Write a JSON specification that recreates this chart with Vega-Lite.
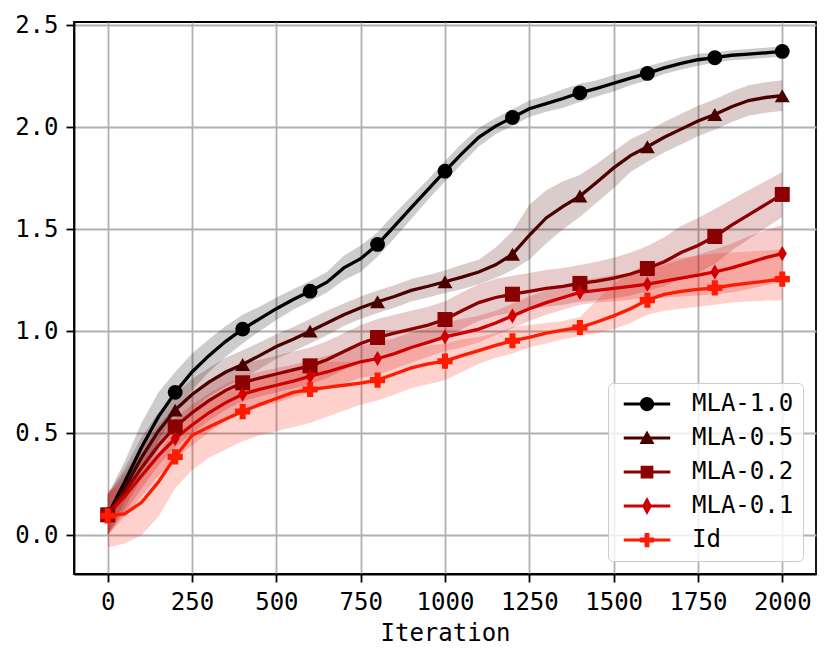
{
  "$schema": "https://vega.github.io/schema/vega-lite/v6.json",
  "autosize": {"type": "none"},
  "padding": {"left": 74, "top": 22, "right": 15, "bottom": 87},
  "width": 742,
  "height": 552,
  "datasets": {
    "runs": [
      {"s": "MLA-1.0", "it": 0, "y": 0.1, "lo": 0.0, "hi": 0.2},
      {"s": "MLA-1.0", "it": 50, "y": 0.26, "lo": 0.16, "hi": 0.36},
      {"s": "MLA-1.0", "it": 100, "y": 0.43, "lo": 0.31, "hi": 0.55},
      {"s": "MLA-1.0", "it": 150, "y": 0.58, "lo": 0.46, "hi": 0.7},
      {"s": "MLA-1.0", "it": 200, "y": 0.7, "lo": 0.6, "hi": 0.8},
      {"s": "MLA-1.0", "it": 250, "y": 0.8, "lo": 0.71, "hi": 0.89},
      {"s": "MLA-1.0", "it": 300, "y": 0.88, "lo": 0.8, "hi": 0.96},
      {"s": "MLA-1.0", "it": 350, "y": 0.95, "lo": 0.875, "hi": 1.025},
      {"s": "MLA-1.0", "it": 400, "y": 1.01, "lo": 0.94, "hi": 1.08},
      {"s": "MLA-1.0", "it": 450, "y": 1.06, "lo": 1.0, "hi": 1.12},
      {"s": "MLA-1.0", "it": 500, "y": 1.11, "lo": 1.055, "hi": 1.165},
      {"s": "MLA-1.0", "it": 550, "y": 1.155, "lo": 1.105, "hi": 1.205},
      {"s": "MLA-1.0", "it": 600, "y": 1.196, "lo": 1.146, "hi": 1.246},
      {"s": "MLA-1.0", "it": 650, "y": 1.24, "lo": 1.19, "hi": 1.29},
      {"s": "MLA-1.0", "it": 700, "y": 1.31, "lo": 1.25, "hi": 1.37},
      {"s": "MLA-1.0", "it": 750, "y": 1.355, "lo": 1.29, "hi": 1.42},
      {"s": "MLA-1.0", "it": 800, "y": 1.425, "lo": 1.365, "hi": 1.485},
      {"s": "MLA-1.0", "it": 850, "y": 1.515, "lo": 1.455, "hi": 1.575},
      {"s": "MLA-1.0", "it": 900, "y": 1.605, "lo": 1.55, "hi": 1.66},
      {"s": "MLA-1.0", "it": 950, "y": 1.695, "lo": 1.645, "hi": 1.745},
      {"s": "MLA-1.0", "it": 1000, "y": 1.784, "lo": 1.734, "hi": 1.834},
      {"s": "MLA-1.0", "it": 1050, "y": 1.87, "lo": 1.82, "hi": 1.92},
      {"s": "MLA-1.0", "it": 1100, "y": 1.95, "lo": 1.905, "hi": 1.995},
      {"s": "MLA-1.0", "it": 1150, "y": 2.005, "lo": 1.965, "hi": 2.045},
      {"s": "MLA-1.0", "it": 1200, "y": 2.047, "lo": 2.007, "hi": 2.087},
      {"s": "MLA-1.0", "it": 1250, "y": 2.09, "lo": 2.05, "hi": 2.13},
      {"s": "MLA-1.0", "it": 1300, "y": 2.115, "lo": 2.075, "hi": 2.155},
      {"s": "MLA-1.0", "it": 1350, "y": 2.14, "lo": 2.095, "hi": 2.185},
      {"s": "MLA-1.0", "it": 1400, "y": 2.168, "lo": 2.123, "hi": 2.213},
      {"s": "MLA-1.0", "it": 1450, "y": 2.19, "lo": 2.15, "hi": 2.23},
      {"s": "MLA-1.0", "it": 1500, "y": 2.215, "lo": 2.175, "hi": 2.255},
      {"s": "MLA-1.0", "it": 1550, "y": 2.24, "lo": 2.205, "hi": 2.275},
      {"s": "MLA-1.0", "it": 1600, "y": 2.263, "lo": 2.228, "hi": 2.298},
      {"s": "MLA-1.0", "it": 1650, "y": 2.29, "lo": 2.26, "hi": 2.32},
      {"s": "MLA-1.0", "it": 1700, "y": 2.312, "lo": 2.282, "hi": 2.342},
      {"s": "MLA-1.0", "it": 1750, "y": 2.33, "lo": 2.3, "hi": 2.36},
      {"s": "MLA-1.0", "it": 1800, "y": 2.34, "lo": 2.315, "hi": 2.365},
      {"s": "MLA-1.0", "it": 1850, "y": 2.352, "lo": 2.327, "hi": 2.377},
      {"s": "MLA-1.0", "it": 1900, "y": 2.358, "lo": 2.333, "hi": 2.383},
      {"s": "MLA-1.0", "it": 1950, "y": 2.364, "lo": 2.339, "hi": 2.389},
      {"s": "MLA-1.0", "it": 2000, "y": 2.371, "lo": 2.346, "hi": 2.396},

      {"s": "MLA-0.5", "it": 0, "y": 0.1, "lo": 0.0, "hi": 0.2},
      {"s": "MLA-0.5", "it": 50, "y": 0.23, "lo": 0.13, "hi": 0.33},
      {"s": "MLA-0.5", "it": 100, "y": 0.38, "lo": 0.28, "hi": 0.48},
      {"s": "MLA-0.5", "it": 150, "y": 0.51, "lo": 0.42, "hi": 0.6},
      {"s": "MLA-0.5", "it": 200, "y": 0.613, "lo": 0.533, "hi": 0.693},
      {"s": "MLA-0.5", "it": 250, "y": 0.69, "lo": 0.615, "hi": 0.765},
      {"s": "MLA-0.5", "it": 300, "y": 0.75, "lo": 0.68, "hi": 0.82},
      {"s": "MLA-0.5", "it": 350, "y": 0.8, "lo": 0.73, "hi": 0.87},
      {"s": "MLA-0.5", "it": 400, "y": 0.837, "lo": 0.767, "hi": 0.907},
      {"s": "MLA-0.5", "it": 450, "y": 0.88, "lo": 0.815, "hi": 0.945},
      {"s": "MLA-0.5", "it": 500, "y": 0.925, "lo": 0.865, "hi": 0.985},
      {"s": "MLA-0.5", "it": 550, "y": 0.96, "lo": 0.9, "hi": 1.02},
      {"s": "MLA-0.5", "it": 600, "y": 1.0, "lo": 0.94, "hi": 1.06},
      {"s": "MLA-0.5", "it": 650, "y": 1.04, "lo": 0.98, "hi": 1.1},
      {"s": "MLA-0.5", "it": 700, "y": 1.08, "lo": 1.025, "hi": 1.135},
      {"s": "MLA-0.5", "it": 750, "y": 1.115, "lo": 1.06, "hi": 1.17},
      {"s": "MLA-0.5", "it": 800, "y": 1.144, "lo": 1.089, "hi": 1.199},
      {"s": "MLA-0.5", "it": 850, "y": 1.17, "lo": 1.115, "hi": 1.225},
      {"s": "MLA-0.5", "it": 900, "y": 1.2, "lo": 1.145, "hi": 1.255},
      {"s": "MLA-0.5", "it": 950, "y": 1.22, "lo": 1.165, "hi": 1.275},
      {"s": "MLA-0.5", "it": 1000, "y": 1.242, "lo": 1.187, "hi": 1.297},
      {"s": "MLA-0.5", "it": 1050, "y": 1.265, "lo": 1.205, "hi": 1.325},
      {"s": "MLA-0.5", "it": 1100, "y": 1.29, "lo": 1.23, "hi": 1.35},
      {"s": "MLA-0.5", "it": 1150, "y": 1.325, "lo": 1.26, "hi": 1.41},
      {"s": "MLA-0.5", "it": 1200, "y": 1.377, "lo": 1.3, "hi": 1.49},
      {"s": "MLA-0.5", "it": 1250, "y": 1.47, "lo": 1.35, "hi": 1.62},
      {"s": "MLA-0.5", "it": 1300, "y": 1.555, "lo": 1.43, "hi": 1.69},
      {"s": "MLA-0.5", "it": 1350, "y": 1.612, "lo": 1.5, "hi": 1.735},
      {"s": "MLA-0.5", "it": 1400, "y": 1.662, "lo": 1.56, "hi": 1.765},
      {"s": "MLA-0.5", "it": 1450, "y": 1.73, "lo": 1.63, "hi": 1.82},
      {"s": "MLA-0.5", "it": 1500, "y": 1.8, "lo": 1.7, "hi": 1.88},
      {"s": "MLA-0.5", "it": 1550, "y": 1.86, "lo": 1.78, "hi": 1.94},
      {"s": "MLA-0.5", "it": 1600, "y": 1.904, "lo": 1.83, "hi": 1.98},
      {"s": "MLA-0.5", "it": 1650, "y": 1.95, "lo": 1.875, "hi": 2.025},
      {"s": "MLA-0.5", "it": 1700, "y": 1.99, "lo": 1.915, "hi": 2.065},
      {"s": "MLA-0.5", "it": 1750, "y": 2.03, "lo": 1.955, "hi": 2.105},
      {"s": "MLA-0.5", "it": 1800, "y": 2.062, "lo": 1.987, "hi": 2.137},
      {"s": "MLA-0.5", "it": 1850, "y": 2.1, "lo": 2.025, "hi": 2.175},
      {"s": "MLA-0.5", "it": 1900, "y": 2.13, "lo": 2.055, "hi": 2.205},
      {"s": "MLA-0.5", "it": 1950, "y": 2.145, "lo": 2.07, "hi": 2.22},
      {"s": "MLA-0.5", "it": 2000, "y": 2.154, "lo": 2.079, "hi": 2.229},

      {"s": "MLA-0.2", "it": 0, "y": 0.1, "lo": 0.0, "hi": 0.2},
      {"s": "MLA-0.2", "it": 50, "y": 0.21, "lo": 0.11, "hi": 0.31},
      {"s": "MLA-0.2", "it": 100, "y": 0.33, "lo": 0.23, "hi": 0.43},
      {"s": "MLA-0.2", "it": 150, "y": 0.44, "lo": 0.34, "hi": 0.54},
      {"s": "MLA-0.2", "it": 200, "y": 0.531, "lo": 0.431, "hi": 0.631},
      {"s": "MLA-0.2", "it": 250, "y": 0.6, "lo": 0.5, "hi": 0.7},
      {"s": "MLA-0.2", "it": 300, "y": 0.66, "lo": 0.56, "hi": 0.76},
      {"s": "MLA-0.2", "it": 350, "y": 0.71, "lo": 0.615, "hi": 0.805},
      {"s": "MLA-0.2", "it": 400, "y": 0.747, "lo": 0.657, "hi": 0.837},
      {"s": "MLA-0.2", "it": 450, "y": 0.77, "lo": 0.68, "hi": 0.86},
      {"s": "MLA-0.2", "it": 500, "y": 0.79, "lo": 0.7, "hi": 0.88},
      {"s": "MLA-0.2", "it": 550, "y": 0.81, "lo": 0.72, "hi": 0.9},
      {"s": "MLA-0.2", "it": 600, "y": 0.83, "lo": 0.74, "hi": 0.92},
      {"s": "MLA-0.2", "it": 650, "y": 0.86, "lo": 0.77, "hi": 0.95},
      {"s": "MLA-0.2", "it": 700, "y": 0.9, "lo": 0.81, "hi": 0.99},
      {"s": "MLA-0.2", "it": 750, "y": 0.94, "lo": 0.85, "hi": 1.03},
      {"s": "MLA-0.2", "it": 800, "y": 0.969, "lo": 0.879, "hi": 1.059},
      {"s": "MLA-0.2", "it": 850, "y": 0.99, "lo": 0.9, "hi": 1.08},
      {"s": "MLA-0.2", "it": 900, "y": 1.01, "lo": 0.92, "hi": 1.1},
      {"s": "MLA-0.2", "it": 950, "y": 1.03, "lo": 0.94, "hi": 1.12},
      {"s": "MLA-0.2", "it": 1000, "y": 1.057, "lo": 0.967, "hi": 1.147},
      {"s": "MLA-0.2", "it": 1050, "y": 1.1, "lo": 1.01, "hi": 1.19},
      {"s": "MLA-0.2", "it": 1100, "y": 1.14, "lo": 1.05, "hi": 1.23},
      {"s": "MLA-0.2", "it": 1150, "y": 1.165, "lo": 1.075, "hi": 1.255},
      {"s": "MLA-0.2", "it": 1200, "y": 1.181, "lo": 1.091, "hi": 1.271},
      {"s": "MLA-0.2", "it": 1250, "y": 1.195, "lo": 1.105, "hi": 1.285},
      {"s": "MLA-0.2", "it": 1300, "y": 1.21, "lo": 1.12, "hi": 1.3},
      {"s": "MLA-0.2", "it": 1350, "y": 1.22, "lo": 1.13, "hi": 1.31},
      {"s": "MLA-0.2", "it": 1400, "y": 1.234, "lo": 1.144, "hi": 1.324},
      {"s": "MLA-0.2", "it": 1450, "y": 1.245, "lo": 1.15, "hi": 1.34},
      {"s": "MLA-0.2", "it": 1500, "y": 1.26, "lo": 1.16, "hi": 1.36},
      {"s": "MLA-0.2", "it": 1550, "y": 1.28, "lo": 1.175, "hi": 1.385},
      {"s": "MLA-0.2", "it": 1600, "y": 1.307, "lo": 1.197, "hi": 1.417},
      {"s": "MLA-0.2", "it": 1650, "y": 1.34, "lo": 1.22, "hi": 1.46},
      {"s": "MLA-0.2", "it": 1700, "y": 1.385, "lo": 1.255, "hi": 1.515},
      {"s": "MLA-0.2", "it": 1750, "y": 1.42, "lo": 1.285, "hi": 1.555},
      {"s": "MLA-0.2", "it": 1800, "y": 1.464, "lo": 1.329, "hi": 1.599},
      {"s": "MLA-0.2", "it": 1850, "y": 1.52, "lo": 1.395, "hi": 1.645},
      {"s": "MLA-0.2", "it": 1900, "y": 1.57, "lo": 1.45, "hi": 1.69},
      {"s": "MLA-0.2", "it": 1950, "y": 1.62, "lo": 1.505, "hi": 1.735},
      {"s": "MLA-0.2", "it": 2000, "y": 1.67, "lo": 1.56, "hi": 1.78},

      {"s": "MLA-0.1", "it": 0, "y": 0.1, "lo": 0.0, "hi": 0.2},
      {"s": "MLA-0.1", "it": 50, "y": 0.19, "lo": 0.09, "hi": 0.29},
      {"s": "MLA-0.1", "it": 100, "y": 0.29, "lo": 0.19, "hi": 0.39},
      {"s": "MLA-0.1", "it": 150, "y": 0.39, "lo": 0.29, "hi": 0.49},
      {"s": "MLA-0.1", "it": 200, "y": 0.474, "lo": 0.374, "hi": 0.574},
      {"s": "MLA-0.1", "it": 250, "y": 0.54, "lo": 0.44, "hi": 0.64},
      {"s": "MLA-0.1", "it": 300, "y": 0.6, "lo": 0.505, "hi": 0.695},
      {"s": "MLA-0.1", "it": 350, "y": 0.65, "lo": 0.56, "hi": 0.74},
      {"s": "MLA-0.1", "it": 400, "y": 0.691, "lo": 0.601, "hi": 0.781},
      {"s": "MLA-0.1", "it": 450, "y": 0.715, "lo": 0.63, "hi": 0.8},
      {"s": "MLA-0.1", "it": 500, "y": 0.735, "lo": 0.65, "hi": 0.82},
      {"s": "MLA-0.1", "it": 550, "y": 0.755, "lo": 0.675, "hi": 0.835},
      {"s": "MLA-0.1", "it": 600, "y": 0.779, "lo": 0.699, "hi": 0.859},
      {"s": "MLA-0.1", "it": 650, "y": 0.8, "lo": 0.72, "hi": 0.88},
      {"s": "MLA-0.1", "it": 700, "y": 0.825, "lo": 0.745, "hi": 0.905},
      {"s": "MLA-0.1", "it": 750, "y": 0.85, "lo": 0.77, "hi": 0.93},
      {"s": "MLA-0.1", "it": 800, "y": 0.866, "lo": 0.786, "hi": 0.946},
      {"s": "MLA-0.1", "it": 850, "y": 0.89, "lo": 0.815, "hi": 0.965},
      {"s": "MLA-0.1", "it": 900, "y": 0.92, "lo": 0.845, "hi": 0.995},
      {"s": "MLA-0.1", "it": 950, "y": 0.945, "lo": 0.875, "hi": 1.015},
      {"s": "MLA-0.1", "it": 1000, "y": 0.972, "lo": 0.902, "hi": 1.042},
      {"s": "MLA-0.1", "it": 1050, "y": 0.99, "lo": 0.92, "hi": 1.06},
      {"s": "MLA-0.1", "it": 1100, "y": 1.01, "lo": 0.945, "hi": 1.075},
      {"s": "MLA-0.1", "it": 1150, "y": 1.04, "lo": 0.98, "hi": 1.1},
      {"s": "MLA-0.1", "it": 1200, "y": 1.075, "lo": 1.015, "hi": 1.135},
      {"s": "MLA-0.1", "it": 1250, "y": 1.11, "lo": 1.05, "hi": 1.17},
      {"s": "MLA-0.1", "it": 1300, "y": 1.14, "lo": 1.08, "hi": 1.2},
      {"s": "MLA-0.1", "it": 1350, "y": 1.165, "lo": 1.105, "hi": 1.225},
      {"s": "MLA-0.1", "it": 1400, "y": 1.19, "lo": 1.13, "hi": 1.25},
      {"s": "MLA-0.1", "it": 1450, "y": 1.2, "lo": 1.14, "hi": 1.26},
      {"s": "MLA-0.1", "it": 1500, "y": 1.21, "lo": 1.145, "hi": 1.275},
      {"s": "MLA-0.1", "it": 1550, "y": 1.22, "lo": 1.155, "hi": 1.285},
      {"s": "MLA-0.1", "it": 1600, "y": 1.23, "lo": 1.16, "hi": 1.3},
      {"s": "MLA-0.1", "it": 1650, "y": 1.245, "lo": 1.165, "hi": 1.325},
      {"s": "MLA-0.1", "it": 1700, "y": 1.26, "lo": 1.17, "hi": 1.35},
      {"s": "MLA-0.1", "it": 1750, "y": 1.275, "lo": 1.175, "hi": 1.375},
      {"s": "MLA-0.1", "it": 1800, "y": 1.29, "lo": 1.18, "hi": 1.4},
      {"s": "MLA-0.1", "it": 1850, "y": 1.31, "lo": 1.19, "hi": 1.43},
      {"s": "MLA-0.1", "it": 1900, "y": 1.335, "lo": 1.205, "hi": 1.465},
      {"s": "MLA-0.1", "it": 1950, "y": 1.36, "lo": 1.225, "hi": 1.495},
      {"s": "MLA-0.1", "it": 2000, "y": 1.38, "lo": 1.24, "hi": 1.52},

      {"s": "Id", "it": 0, "y": 0.095, "lo": -0.06, "hi": 0.22},
      {"s": "Id", "it": 50, "y": 0.105, "lo": -0.04, "hi": 0.24},
      {"s": "Id", "it": 100, "y": 0.16, "lo": 0.0, "hi": 0.3},
      {"s": "Id", "it": 150, "y": 0.26, "lo": 0.09, "hi": 0.4},
      {"s": "Id", "it": 200, "y": 0.384, "lo": 0.23, "hi": 0.52},
      {"s": "Id", "it": 250, "y": 0.49, "lo": 0.32, "hi": 0.62},
      {"s": "Id", "it": 300, "y": 0.53, "lo": 0.38, "hi": 0.67},
      {"s": "Id", "it": 350, "y": 0.57, "lo": 0.42, "hi": 0.7},
      {"s": "Id", "it": 400, "y": 0.606, "lo": 0.46, "hi": 0.73},
      {"s": "Id", "it": 450, "y": 0.64, "lo": 0.49, "hi": 0.76},
      {"s": "Id", "it": 500, "y": 0.67, "lo": 0.51, "hi": 0.79},
      {"s": "Id", "it": 550, "y": 0.7, "lo": 0.53, "hi": 0.82},
      {"s": "Id", "it": 600, "y": 0.714, "lo": 0.55, "hi": 0.84},
      {"s": "Id", "it": 650, "y": 0.725, "lo": 0.58, "hi": 0.85},
      {"s": "Id", "it": 700, "y": 0.735, "lo": 0.61, "hi": 0.85},
      {"s": "Id", "it": 750, "y": 0.745, "lo": 0.64, "hi": 0.85},
      {"s": "Id", "it": 800, "y": 0.76, "lo": 0.66, "hi": 0.86},
      {"s": "Id", "it": 850, "y": 0.79, "lo": 0.69, "hi": 0.89},
      {"s": "Id", "it": 900, "y": 0.82, "lo": 0.72, "hi": 0.91},
      {"s": "Id", "it": 950, "y": 0.84, "lo": 0.74, "hi": 0.93},
      {"s": "Id", "it": 1000, "y": 0.853, "lo": 0.76, "hi": 0.94},
      {"s": "Id", "it": 1050, "y": 0.88, "lo": 0.8, "hi": 0.96},
      {"s": "Id", "it": 1100, "y": 0.905, "lo": 0.84, "hi": 0.97},
      {"s": "Id", "it": 1150, "y": 0.93, "lo": 0.87, "hi": 0.99},
      {"s": "Id", "it": 1200, "y": 0.953, "lo": 0.89, "hi": 1.02},
      {"s": "Id", "it": 1250, "y": 0.97, "lo": 0.92, "hi": 1.03},
      {"s": "Id", "it": 1300, "y": 0.99, "lo": 0.94, "hi": 1.04},
      {"s": "Id", "it": 1350, "y": 1.005, "lo": 0.96, "hi": 1.05},
      {"s": "Id", "it": 1400, "y": 1.018, "lo": 0.975, "hi": 1.07},
      {"s": "Id", "it": 1450, "y": 1.045, "lo": 0.99, "hi": 1.15},
      {"s": "Id", "it": 1500, "y": 1.075, "lo": 1.01, "hi": 1.23},
      {"s": "Id", "it": 1550, "y": 1.11, "lo": 1.04, "hi": 1.29},
      {"s": "Id", "it": 1600, "y": 1.152, "lo": 1.08, "hi": 1.33},
      {"s": "Id", "it": 1650, "y": 1.18, "lo": 1.1, "hi": 1.35},
      {"s": "Id", "it": 1700, "y": 1.195, "lo": 1.11, "hi": 1.36},
      {"s": "Id", "it": 1750, "y": 1.205, "lo": 1.12, "hi": 1.37},
      {"s": "Id", "it": 1800, "y": 1.212, "lo": 1.13, "hi": 1.38},
      {"s": "Id", "it": 1850, "y": 1.225, "lo": 1.14, "hi": 1.385},
      {"s": "Id", "it": 1900, "y": 1.235, "lo": 1.145, "hi": 1.39},
      {"s": "Id", "it": 1950, "y": 1.245, "lo": 1.15, "hi": 1.395},
      {"s": "Id", "it": 2000, "y": 1.255, "lo": 1.15, "hi": 1.4}
    ]
  },
  "data": {"name": "runs"},
  "encoding": {
    "x": {
      "field": "it",
      "type": "quantitative",
      "title": "Iteration",
      "scale": {"domain": [-100, 2100], "nice": false, "zero": false},
      "axis": {"values": [0, 250, 500, 750, 1000, 1250, 1500, 1750, 2000], "format": "d"}
    },
    "color": {
      "field": "s",
      "type": "nominal",
      "scale": {
        "domain": ["MLA-1.0", "MLA-0.5", "MLA-0.2", "MLA-0.1", "Id"],
        "range": ["#000000", "#4b0000", "#8b0000", "#d00000", "#ff1a00"]
      },
      "legend": null
    }
  },
  "layer": [
    {
      "mark": {"type": "area", "opacity": 0.2},
      "encoding": {
        "y": {
          "field": "lo",
          "type": "quantitative",
          "title": null,
          "scale": {"domain": [-0.19, 2.515], "nice": false, "zero": false},
          "axis": {"values": [0, 0.5, 1, 1.5, 2, 2.5], "format": ".1f"}
        },
        "y2": {"field": "hi"}
      }
    },
    {
      "mark": {"type": "line", "strokeWidth": 3.3},
      "encoding": {
        "y": {"field": "y", "type": "quantitative"}
      }
    },
    {
      "transform": [{"filter": "datum.it % 200 == 0"}],
      "mark": {"type": "point", "filled": true, "opacity": 1},
      "encoding": {
        "y": {"field": "y", "type": "quantitative"},
        "shape": {
          "field": "s",
          "type": "nominal",
          "scale": {
            "domain": ["MLA-1.0", "MLA-0.5", "MLA-0.2", "MLA-0.1", "Id"],
            "range": ["circle", "triangle-up", "square", "M0,-1L0.6,0L0,1L-0.6,0Z", "cross"]
          },
          "legend": null
        },
        "size": {
          "field": "s",
          "type": "nominal",
          "scale": {
            "domain": ["MLA-1.0", "MLA-0.5", "MLA-0.2", "MLA-0.1", "Id"],
            "range": [220, 230, 190, 440, 210]
          },
          "legend": null
        }
      }
    },
    {
      "transform": [{"filter": "datum.it % 200 == 0"}],
      "mark": {"type": "point", "filled": true, "opacity": 0, "size": 225},
      "encoding": {
        "y": {"field": "y", "type": "quantitative"},
        "shape": {
          "field": "s",
          "type": "nominal",
          "scale": {
            "domain": ["MLA-1.0", "MLA-0.5", "MLA-0.2", "MLA-0.1", "Id"],
            "range": [
              "M-3.1,-0.2L3.1,-0.2L3.1,0.2L-3.1,0.2ZM-0.95,0A0.95,0.95 0 1,1 0.95,0A0.95,0.95 0 1,1 -0.95,0Z",
              "M-3.1,-0.2L3.1,-0.2L3.1,0.2L-3.1,0.2ZM0,-1L1,0.8L-1,0.8Z",
              "M-3.1,-0.2L3.1,-0.2L3.1,0.2L-3.1,0.2ZM-0.85,-0.85L0.85,-0.85L0.85,0.85L-0.85,0.85Z",
              "M-3.1,-0.2L3.1,-0.2L3.1,0.2L-3.1,0.2ZM0,-1.2L0.65,0L0,1.2L-0.65,0Z",
              "M-3.1,-0.2L3.1,-0.2L3.1,0.2L-3.1,0.2ZM-0.32,-0.95L0.32,-0.95L0.32,-0.32L0.95,-0.32L0.95,0.32L0.32,0.32L0.32,0.95L-0.32,0.95L-0.32,0.32L-0.95,0.32L-0.95,-0.32L-0.32,-0.32Z"
            ]
          },
          "legend": {
            "title": null,
            "orient": "bottom-right",
            "offset": 13,
            "padding": 9,
            "rowPadding": 10,
            "symbolSize": 225,
            "symbolOpacity": 1,
            "symbolStrokeWidth": 0,
            "symbolFillColor": {"expr": "scale('color', datum.value)"},
            "symbolOffset": 18,
            "labelOffset": 33,
            "labelFontSize": 24,
            "labelFont": "DejaVu Sans Mono",
            "labelColor": "black",
            "fillColor": "rgba(255,255,255,0.8)",
            "strokeColor": "#cccccc",
            "cornerRadius": 5
          }
        }
      }
    }
  ],
  "resolve": {"scale": {"shape": "independent"}, "legend": {"shape": "independent"}},
  "config": {
    "font": "DejaVu Sans Mono",
    "view": {"stroke": "black", "strokeWidth": 1.8},
    "axis": {
      "labelFont": "DejaVu Sans Mono",
      "labelFontSize": 24,
      "labelColor": "black",
      "titleFont": "DejaVu Sans Mono",
      "titleFontSize": 24,
      "titleFontWeight": "normal",
      "titleColor": "black",
      "tickColor": "black",
      "tickSize": 8,
      "tickWidth": 1.8,
      "domainColor": "black",
      "domainWidth": 1.8,
      "gridColor": "#b0b0b0",
      "gridWidth": 1.8,
      "labelPadding": 8,
      "titlePadding": 7,
      "labelFlush": false,
      "labelOverlap": false
    }
  }
}
